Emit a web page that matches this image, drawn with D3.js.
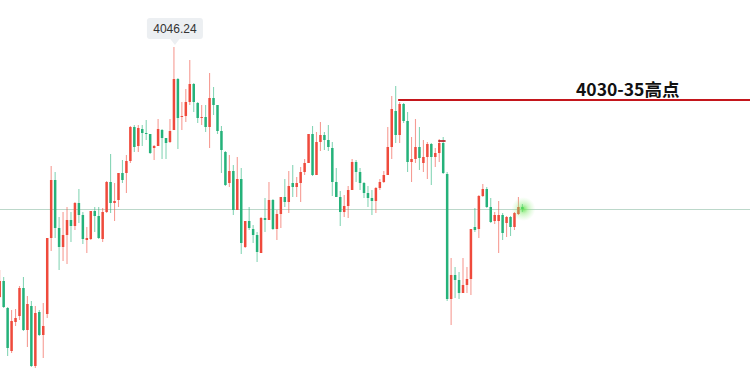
<!DOCTYPE html>
<html>
<head>
<meta charset="utf-8">
<script src="https://cdn.jsdelivr.net/npm/d3@7"></script>
<style>
  html, body { margin: 0; padding: 0; background: #fff; }
  svg { display: block; }
</style>
</head>
<body>
<div id="chart"></div>
<script>
// candle values, one entry per bar (oldest first)
const opens = [
  3983.75, 3987.75, 3981, 3970.25, 3977.5, 3979, 3986, 3975.5, 3981.5, 3966.5,
  3980, 3974.25, 3979.5, 3998.5, 4013, 4001, 3996.25, 3999.25, 4003, 4001.5,
  4007.25, 4004.25, 3998, 3998.25, 4005.25, 4004, 3998.25, 4005, 4012.5, 4007.25,
  4008, 4014.75, 4014.75, 4017.75, 4026.25, 4021.5, 4025.75, 4024.75, 4024.5, 4021,
  4021.5, 4025.5, 4023.5, 4022.5, 4025.5, 4038.25, 4028.75, 4029, 4032.5, 4037,
  4032.25, 4028.5, 4028.75, 4026.25, 4033.5, 4031.75, 4025.25, 4020, 4012.25, 4015.25,
  4005.5, 4013.25, 3996.25, 4002.75, 4000.75, 3999.25, 3994.75, 4003.5, 4003, 4008,
  4000.75, 4004.5, 4008.75, 4007.5, 4012.25, 4011.25, 4012.25, 4015, 4017.25, 4024.5,
  4014.25, 4022.5, 4024.25, 4023, 4021, 4012.5, 4008.75, 4005, 4006.5, 4010.5,
  4017.5, 4015, 4012.25, 4009.75, 4008.5, 4007.75, 4011, 4012.5, 4014.25, 4021.25,
  4030.25, 4024.25, 4032, 4027.75, 4017.5, 4018.25, 4021.25, 4017.25, 4018.75, 4022,
  4018.75, 4019.75, 4022.25, 4014.5, 3983.25, 3989.25, 3988, 3984.75, 3986.75, 3988.25,
  4001.25, 4000.75, 4009, 4010.75, 4006.25, 4002.75, 4002.75, 4004.25, 4002.25, 4003.75,
  4001.25, 4004.5, 4006.25
];
const closes = [
  3987.75, 3981.25, 3971, 3977.75, 3978.5, 3986, 3975.5, 3982, 3966.5, 3979.75,
  3974.25, 3976.5, 3998.5, 4013, 4001, 3996.25, 3999.25, 4003, 4001.5, 4007.25,
  4004.25, 3998.25, 3998.5, 4005.25, 4004, 3998.5, 4005, 4012.5, 4007.25, 4007.75,
  4014.75, 4013, 4017.75, 4026.25, 4021.25, 4026, 4024.75, 4024.5, 4019.75, 4021.5,
  4025.75, 4023.5, 4022.25, 4025.25, 4038.25, 4028.5, 4029, 4032.5, 4037, 4032.5,
  4028.5, 4028.75, 4026.25, 4033.5, 4031.75, 4025.25, 4020.5, 4011.75, 4015.25, 4005.5,
  4013.25, 3997.25, 4002.75, 4001, 3999.25, 3995, 4003.5, 4003, 4008, 4000.75,
  4004.5, 4008.75, 4007.5, 4011.5, 4011.25, 4012.25, 4015, 4017.25, 4024.5, 4014.25,
  4022.5, 4024.25, 4023, 4021.25, 4012.5, 4008.75, 4005, 4006.5, 4010.5, 4017.5,
  4015, 4012.25, 4009.75, 4008.5, 4007.75, 4011, 4012.5, 4014.25, 4021.25, 4030.75,
  4024.25, 4032, 4027.75, 4017.5, 4018.25, 4021.25, 4018.5, 4018.75, 4022, 4018.75,
  4019.75, 4022.25, 4014.75, 3983.25, 3989.25, 3988, 3984.75, 3986.75, 3988.25, 4000.75,
  4000.5, 4009, 4010.75, 4006.25, 4002.5, 4004.25, 4004.25, 3999.75, 4003.75, 4001.25,
  4004.75, 4006.25, 4005.75
];
const highs = [
  3990.5, 3988.75, 3981.25, 3980.5, 3980.75, 3986.5, 3988.75, 3984, 3982.75, 3981.5,
  3980.5, 3982.25, 3998.5, 4016.5, 4015, 4003.75, 4005, 4006.25, 4005, 4007.5,
  4010.75, 4005, 4001.25, 4005.25, 4006.25, 4006.25, 4006, 4012.75, 4019.5, 4012.25,
  4014.75, 4018, 4019.25, 4026.5, 4026.75, 4026.75, 4026.75, 4028, 4024.5, 4021.75,
  4028.25, 4025.75, 4023.5, 4028.25, 4046.24, 4038.5, 4032.5, 4035.75, 4043, 4037.25,
  4032.5, 4031.75, 4031.75, 4039.75, 4036.25, 4031.75, 4026.5, 4020.25, 4019.25, 4016.75,
  4018.75, 4016, 4002.75, 4006.25, 4001.75, 4000, 4003.75, 4008.5, 4012.5, 4008.25,
  4005.5, 4008.75, 4013.25, 4015.25, 4016.75, 4013.75, 4016.25, 4018.25, 4024.5, 4026.5,
  4025, 4027.5, 4025, 4026.75, 4022.5, 4016, 4010.25, 4009.25, 4011.5, 4018.25,
  4018, 4016, 4012.5, 4011.5, 4010.5, 4011.25, 4013.25, 4015.25, 4026.25, 4034,
  4036.5, 4032.5, 4032.25, 4030, 4023.75, 4028.25, 4026.25, 4023, 4022.5, 4022.25,
  4021, 4023.25, 4023.75, 4015, 3993.5, 3991.25, 3990, 3993.5, 3991.25, 4000.75,
  4006, 4009.25, 4012, 4011.25, 4008.5, 4005, 4007.75, 4004.75, 4004, 4004,
  4005, 4008.75, 4007
];
const lows = [
  3983.5, 3981, 3969, 3969.75, 3976.5, 3978, 3975.25, 3971.25, 3966.25, 3966,
  3974, 3968.5, 3978.5, 3995.25, 3998.5, 3990.5, 3992.75, 3992, 3997.5, 4000.5,
  4002.25, 3997, 3994.75, 3998, 4000, 3998.25, 3997.5, 4004.75, 4004.75, 4002.75,
  4006.25, 4012.25, 4009.75, 4017.25, 4020, 4020, 4021.5, 4023, 4019.5, 4018,
  4021.5, 4018.25, 4018.25, 4022.25, 4025.5, 4020.75, 4025.5, 4027.5, 4031.75, 4030,
  4027.25, 4026.75, 4025, 4021, 4029.25, 4024.5, 4014.75, 4011.5, 4011.25, 4004.25,
  4005.5, 3994.5, 3996, 4000.5, 3997.25, 3992.5, 3994.75, 4000, 4003, 4000.5,
  3998, 4001, 4006.25, 4004.75, 4008.75, 4008.75, 4007.5, 4014.25, 4017.25, 4014,
  4014.25, 4020.25, 4020.5, 4020.25, 4009, 4008.75, 4001.5, 4003.75, 4003.5, 4010.5,
  4012.5, 4010.5, 4008.5, 4006.25, 4004.25, 4004.75, 4010.5, 4012.25, 4014.25, 4018.25,
  4022.25, 4022.25, 4027.25, 4015, 4012.5, 4017.25, 4015.5, 4015, 4013.25, 4011.75,
  4016.25, 4017.5, 4014.5, 3982.75, 3976.75, 3983.5, 3983.25, 3984.75, 3984.75, 3984.25,
  4000, 3998.5, 4008.75, 4006, 4002.25, 4002, 3994.75, 3998, 3998.75, 3999,
  4000.5, 4004.25, 4005
];

// drawn levels
const resistance = 4033;
const resistanceLabel = '4030-35高点';
const resistanceFrom = 101;
const shortLevel = 4022.75;
const shortFrom = 111, shortTo = 112.6;

const W = 750, H = 373;
const upColor = '#ef4a3c', downColor = '#25b27a';

const candles = opens.map((o, i) => ({
  i: i, o: o, c: closes[i], h: highs[i], l: lows[i]
}));
const last = candles[candles.length - 1];
const peak = candles.reduce((a, b) => (b.h > a.h ? b : a));

const svg = d3.select('#chart')
  .append('svg')
  .attr('width', W)
  .attr('height', H);

const x = d3.scaleLinear().domain([0, candles.length - 1]).range([-0.3, 522.4]);
const y = d3.scaleLinear().domain([4058, 3958]).range([0, 400]);

const colorOf = d => (d.c >= d.o ? upColor : downColor);

// last price line
svg.append('line')
  .attr('x1', 0).attr('x2', W)
  .attr('y1', Math.round(y(last.c)) + 0.5).attr('y2', Math.round(y(last.c)) + 0.5)
  .attr('stroke', '#bcd8ca')
  .attr('stroke-width', 1);

// wicks
svg.append('g').selectAll('line')
  .data(candles)
  .enter()
  .append('line')
  .attr('x1', d => x(d.i)).attr('x2', d => x(d.i))
  .attr('y1', d => y(d.h)).attr('y2', d => y(d.l))
  .attr('stroke', colorOf)
  .attr('stroke-opacity', 0.55)
  .attr('stroke-width', 1.1);

// bodies
svg.append('g').selectAll('rect')
  .data(candles)
  .enter()
  .append('rect')
  .attr('x', d => x(d.i) - 1.25)
  .attr('width', 2.5)
  .attr('y', d => y(Math.max(d.o, d.c)))
  .attr('height', d => Math.max(1, Math.abs(y(d.o) - y(d.c))))
  .attr('fill', colorOf);

// glow on the live candle
const defs = svg.append('defs');
const grad = defs.append('radialGradient').attr('id', 'glow');
grad.append('stop').attr('offset', '0%').attr('stop-color', '#5fe04a').attr('stop-opacity', 0.85);
grad.append('stop').attr('offset', '40%').attr('stop-color', '#7be866').attr('stop-opacity', 0.4);
grad.append('stop').attr('offset', '100%').attr('stop-color', '#a6f095').attr('stop-opacity', 0);
svg.append('circle')
  .attr('cx', x(last.i) + 1)
  .attr('cy', y(last.c))
  .attr('r', 12)
  .attr('fill', 'url(#glow)');

// resistance line + label
svg.append('line')
  .attr('x1', x(resistanceFrom) - 1.5).attr('x2', W)
  .attr('y1', y(resistance)).attr('y2', y(resistance))
  .attr('stroke', '#c4161c')
  .attr('stroke-width', 2);

svg.append('text')
  .attr('x', 576)
  .attr('y', y(resistance) - 4)
  .attr('font-family', "'Noto Sans CJK SC', 'Noto Sans', sans-serif")
  .attr('font-size', 17.5)
  .attr('font-weight', 'bold')
  .attr('fill', '#111')
  .text(resistanceLabel);

// short level mark
svg.append('line')
  .attr('x1', x(shortFrom) - 1).attr('x2', x(shortTo))
  .attr('y1', y(shortLevel)).attr('y2', y(shortLevel))
  .attr('stroke', '#b3151b')
  .attr('stroke-width', 1.6);

// high tooltip
const tipX = x(peak.i) + 1, tipY = y(peak.h);
const tip = svg.append('g');
tip.append('rect')
  .attr('x', tipX - 28).attr('y', tipY - 29)
  .attr('width', 56).attr('height', 21)
  .attr('rx', 3)
  .attr('fill', '#eceff2');
tip.append('path')
  .attr('d', `M${tipX - 5},${tipY - 8.5} L${tipX},${tipY - 2} L${tipX + 5},${tipY - 8.5} Z`)
  .attr('fill', '#eceff2');
tip.append('text')
  .attr('x', tipX)
  .attr('y', tipY - 14.5)
  .attr('text-anchor', 'middle')
  .attr('font-family', "'Liberation Sans', Arial, sans-serif")
  .attr('font-size', 12)
  .attr('fill', '#333')
  .text(peak.h.toFixed(2));
</script>
</body>
</html>
